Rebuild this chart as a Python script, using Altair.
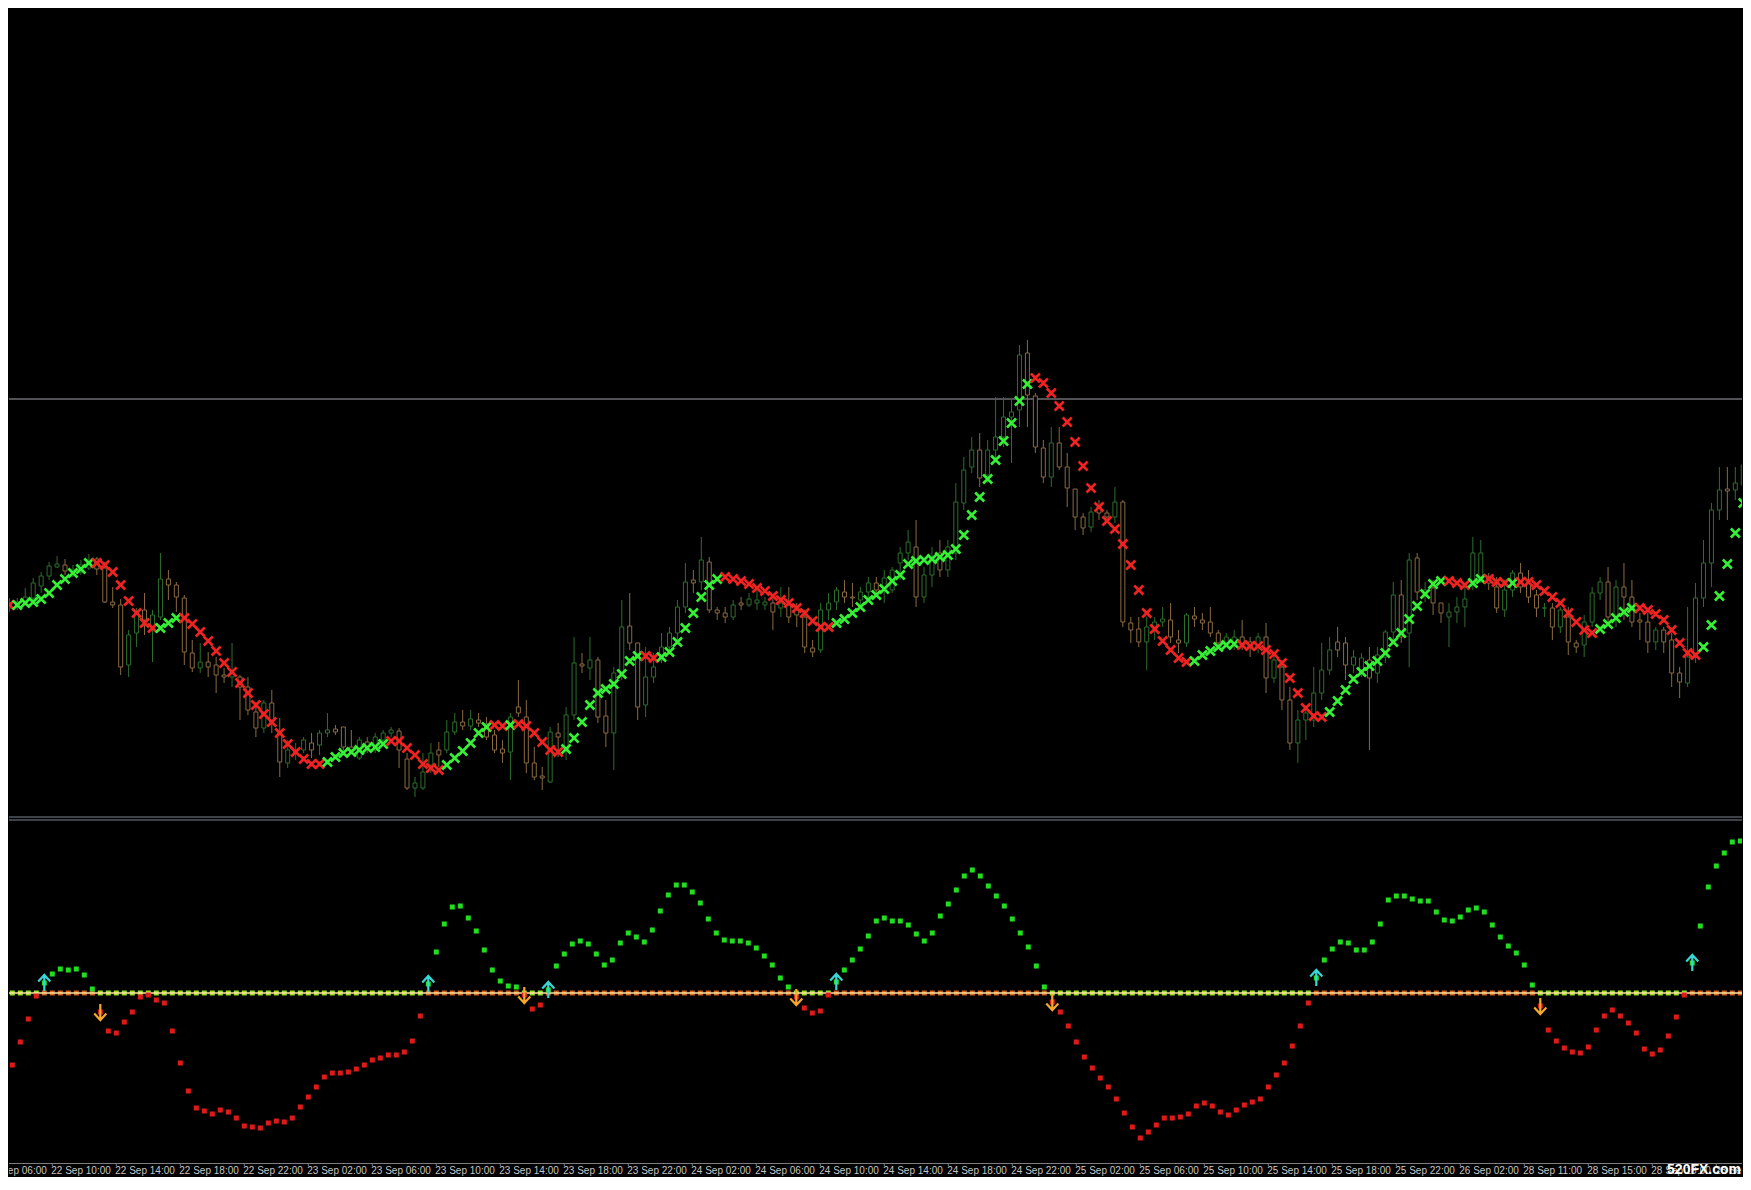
import altair as alt
import pandas as pd

# ---------------- data (H1 bars, price in chart units) ----------------
opens = [392, 393, 397, 402, 414, 424, 433, 435, 427, 428,
         432, 441, 432, 398, 395, 335, 367, 390, 373, 383,
         421, 415, 402, 347, 332, 338, 335, 325, 323, 323,
         313, 288, 272, 297, 267, 237, 247, 250, 257, 255,
         267, 271, 273, 253, 242, 258, 250, 260, 267, 269,
         241, 212, 212, 235, 250, 250, 268, 278, 274, 280,
         276, 265, 251, 248, 293, 283, 237, 224, 218, 267,
         250, 285, 336, 332, 340, 284, 267, 327, 374, 357,
         295, 323, 340, 353, 367, 393, 420, 418, 438, 390,
         387, 383, 397, 395, 397, 395, 397, 392, 395, 390,
         383, 352, 350, 390, 398, 408, 403, 400, 408, 417,
         413, 410, 437, 447, 453, 403, 425, 447, 430, 447,
         497, 533, 550, 525, 550, 563, 583, 590, 647, 604,
         552, 523, 557, 533, 511, 483, 473, 493, 487, 483,
         498, 377, 371, 358, 373, 378, 380, 360, 357, 384,
         380, 378, 367, 357, 357, 363, 358, 353, 363, 322,
         333, 300, 257, 280, 280, 307, 330, 358, 357, 335,
         327, 340, 327, 343, 368, 405, 367, 442, 405, 412,
         397, 383, 388, 393, 417, 423, 423, 413, 390, 410,
         427, 417, 405, 392, 392, 373, 383, 357, 355, 378,
         407, 418, 383, 413, 403, 380, 378, 358, 370, 360,
         327, 317, 343, 402, 437, 490, 511, 510, 515]
highs = [402, 402, 412, 422, 428, 438, 444, 441, 435, 440,
         446, 443, 438, 413, 401, 370, 392, 407, 390, 447,
         430, 418, 405, 360, 357, 348, 343, 332, 357, 325,
         323, 298, 300, 310, 282, 260, 257, 263, 267, 270,
         287, 275, 273, 270, 263, 263, 267, 270, 273, 272,
         247, 223, 247, 257, 258, 280, 287, 290, 290, 287,
         283, 270, 260, 287, 320, 300, 253, 233, 273, 277,
         293, 363, 347, 363, 343, 300, 333, 400, 407, 357,
         353, 347, 367, 373, 400, 437, 430, 463, 443, 393,
         393, 400, 403, 407, 410, 403, 403, 413, 413, 397,
         390, 360, 397, 407, 413, 420, 417, 413, 423, 423,
         430, 433, 453, 470, 480, 433, 453, 460, 460, 517,
         543, 563, 567, 560, 603, 603, 600, 655, 660, 607,
         560, 573, 573, 547, 511, 487, 493, 500, 490, 513,
         500, 383, 383, 383, 383, 393, 397, 370, 387, 393,
         387, 393, 370, 367, 370, 380, 363, 367, 377, 347,
         340, 313, 290, 290, 333, 357, 363, 373, 363, 350,
         347, 353, 353, 370, 418, 420, 447, 447, 418, 420,
         397, 397, 403, 417, 463, 460, 427, 423, 420, 430,
         437, 430, 410, 397, 397, 393, 393, 360, 385, 413,
         423, 433, 420, 437, 420, 387, 387, 373, 373, 367,
         333, 393, 417, 460, 497, 533, 533, 533, 540]
lows = [388, 390, 395, 397, 407, 420, 432, 425, 423, 425,
        430, 425, 397, 392, 325, 323, 353, 365, 338, 380,
        400, 388, 335, 328, 327, 323, 307, 317, 313, 280,
        285, 263, 267, 267, 223, 232, 240, 247, 242, 245,
        263, 265, 250, 247, 240, 247, 247, 257, 263, 232,
        210, 203, 210, 227, 233, 247, 265, 270, 270, 273,
        260, 247, 237, 220, 283, 227, 220, 210, 217, 243,
        240, 280, 327, 320, 277, 253, 230, 320, 350, 280,
        283, 317, 337, 350, 360, 387, 407, 410, 387, 380,
        377, 380, 390, 393, 390, 390, 370, 383, 377, 373,
        347, 343, 347, 380, 390, 397, 393, 393, 400, 403,
        397, 407, 420, 440, 393, 397, 413, 423, 423, 440,
        490, 527, 513, 517, 540, 553, 537, 573, 573, 547,
        517, 513, 530, 493, 470, 465, 468, 480, 477, 477,
        373, 357, 353, 330, 360, 373, 357, 347, 353, 373,
        370, 363, 353, 353, 350, 350, 343, 347, 307, 317,
        290, 250, 237, 260, 273, 300, 325, 343, 320, 327,
        323, 250, 317, 337, 360, 357, 333, 400, 398, 385,
        377, 353, 377, 373, 410, 417, 410, 387, 383, 403,
        407, 397, 383, 383, 360, 367, 345, 347, 343, 373,
        400, 377, 373, 380, 373, 360, 347, 350, 347, 313,
        302, 313, 337, 393, 413, 480, 480, 500, 510]
closes = [397, 398, 403, 417, 424, 434, 436, 429, 430, 435,
          438, 431, 398, 395, 333, 365, 387, 380, 385, 421,
          415, 403, 348, 332, 338, 333, 325, 323, 328, 313,
          290, 272, 297, 278, 238, 250, 250, 260, 250, 267,
          270, 268, 253, 250, 260, 253, 263, 267, 270, 250,
          212, 217, 228, 247, 245, 268, 278, 274, 281, 277,
          263, 250, 247, 283, 287, 237, 223, 222, 268, 263,
          285, 337, 334, 340, 283, 267, 327, 373, 357, 293,
          323, 333, 353, 367, 393, 418, 417, 440, 390, 387,
          383, 395, 395, 401, 400, 398, 388, 397, 383, 385,
          353, 348, 390, 397, 410, 403, 402, 408, 417, 410,
          422, 430, 447, 458, 403, 425, 443, 430, 453, 498,
          530, 550, 522, 550, 563, 583, 588, 645, 605, 553,
          523, 557, 533, 512, 483, 472, 488, 487, 483, 498,
          378, 370, 358, 373, 378, 381, 363, 357, 385, 381,
          377, 367, 357, 363, 363, 355, 353, 363, 322, 340,
          300, 257, 280, 287, 307, 330, 350, 350, 335, 343,
          342, 322, 345, 368, 405, 363, 440, 408, 410, 397,
          387, 388, 393, 401, 447, 447, 417, 392, 410, 427,
          413, 403, 392, 392, 373, 390, 358, 353, 378, 407,
          418, 383, 413, 403, 378, 378, 358, 370, 358, 327,
          318, 343, 402, 437, 490, 510, 509, 517, 535]

# trailing "x" marker level per bar and its colour runs (g = up, r = down)
trail = [395, 395, 397, 398, 401, 407, 415, 421, 427, 431,
         437, 437, 435, 428, 415, 399, 387, 377, 372, 372,
         377, 382, 382, 376, 368, 359, 349, 337, 328, 317,
         307, 295, 286, 278, 267, 256, 248, 241, 236, 236,
         238, 243, 247, 248, 250, 252, 253, 256, 259, 259,
         252, 245, 236, 232, 230, 235, 242, 249, 257, 267,
         273, 275, 274, 275, 276, 274, 267, 258, 250, 248,
         251, 262, 278, 295, 307, 311, 316, 326, 339, 344,
         344, 342, 343, 348, 358, 372, 387, 403, 415, 421,
         423, 421, 419, 416, 412, 409, 404, 400, 397, 392,
         387, 379, 373, 373, 377, 381, 387, 393, 400, 405,
         411, 419, 425, 436, 439, 440, 441, 443, 445, 451,
         465, 485, 503, 521, 540, 559, 577, 599, 616, 622,
         617, 607, 594, 578, 558, 534, 512, 493, 479, 471,
         456, 435, 410, 387, 371, 359, 350, 342, 338, 339,
         345, 349, 353, 355, 356, 355, 354, 354, 350, 346,
         337, 322, 307, 292, 284, 283, 288, 299, 310, 321,
         328, 334, 339, 347, 358, 367, 381, 394, 406, 416,
         419, 419, 417, 415, 417, 421, 421, 418, 417, 417,
         418, 418, 415, 409, 403, 397, 387, 378, 370, 367,
         371, 376, 382, 388, 392, 392, 390, 386, 380, 370,
         357, 347, 345, 353, 375, 404, 436, 467, 497]
trail_runs = [("r", 1), ("g", 10), ("r", 8), ("g", 3), ("r", 18), ("g", 8), ("r", 7),
              ("g", 6), ("r", 2), ("g", 1), ("r", 6), ("g", 10), ("r", 2), ("g", 8),
              ("r", 14), ("g", 25), ("r", 20), ("g", 6), ("r", 11), ("g", 15), ("r", 3),
              ("g", 2), ("r", 3), ("g", 1), ("r", 10), ("g", 5), ("r", 8), ("g", 6)]

# oscillator (lower window)
osc = [-92, -72, -49, -26, -3, 10, 19, 24, 23, 24,
       18, 4, -19, -38, -40, -29, -19, -4, -2, -7,
       -10, -38, -70, -98, -115, -118, -121, -117, -119, -125,
       -133, -134, -135, -130, -128, -129, -125, -114, -104, -94,
       -84, -80, -80, -79, -76, -72, -67, -65, -62, -62,
       -59, -48, -23, 9, 41, 69, 86, 87, 75, 62,
       43, 23, 12, 7, 6, -2, -16, -12, 3, 27,
       39, 49, 52, 49, 39, 28, 33, 50, 60, 56,
       51, 63, 82, 98, 108, 108, 101, 90, 74, 60,
       53, 52, 52, 50, 45, 37, 28, 15, 6, -4,
       -15, -20, -18, -2, 11, 23, 33, 44, 57, 72,
       75, 72, 72, 68, 59, 52, 60, 77, 89, 103,
       117, 123, 117, 107, 97, 87, 74, 60, 46, 27,
       6, -9, -19, -33, -49, -64, -75, -85, -94, -106,
       -120, -134, -145, -139, -132, -125, -125, -124, -121, -113,
       -110, -113, -119, -122, -117, -112, -109, -106, -94, -82,
       -70, -53, -33, -10, 15, 33, 44, 51, 50, 43,
       43, 51, 69, 93, 97, 97, 94, 92, 92, 81,
       73, 72, 76, 83, 85, 81, 68, 56, 47, 40,
       28, 8, -13, -37, -48, -55, -59, -60, -54, -37,
       -23, -17, -23, -30, -40, -56, -61, -57, -43, -24,
       -2, 30, 67, 106, 127, 140, 151, 152, 151]

time_labels = ["22 Sep 06:00", "22 Sep 10:00", "22 Sep 14:00", "22 Sep 18:00", "22 Sep 22:00",
               "23 Sep 02:00", "23 Sep 06:00", "23 Sep 10:00", "23 Sep 14:00", "23 Sep 18:00",
               "23 Sep 22:00", "24 Sep 02:00", "24 Sep 06:00", "24 Sep 10:00", "24 Sep 14:00",
               "24 Sep 18:00", "24 Sep 22:00", "25 Sep 02:00", "25 Sep 06:00", "25 Sep 10:00",
               "25 Sep 14:00", "25 Sep 18:00", "25 Sep 22:00", "26 Sep 02:00", "28 Sep 11:00",
               "28 Sep 15:00", "28 Sep 19:00", "28 Sep 23:00"]
first_label_bar = -2
bars_per_label = 8
hline_level = 601

# ---------------- styling ----------------
W = 1733
H_MAIN, H_IND, H_LAB = 807, 348, 13
XMIN = 0.5875
XMAX = XMIN + W / 8.0
BULL, BEAR = "#2d6e2d", "#8a6a40"
XG, XR = "#36f036", "#f02222"
OG, ORD = "#22dd22", "#e01a1a"
ZPOS, ZNEG = "#d0601c", "#94df2a"
UPC, DNC = "#3ad6d6", "#f5a82a"
XPATH = "M-1,-1L1,1M-1,1L1,-1"
UPPATH = "M0,1L0,-1M-0.75,-0.2L0,-1L0.75,-0.2"
DNPATH = "M0,-1L0,1M-0.75,0.2L0,1L0.75,0.2"

N = len(opens)
idx = list(range(N))
bars = pd.DataFrame({"i": idx, "o": opens, "h": highs, "l": lows, "c": closes})
bars["col"] = [BULL if c >= o else BEAR for o, c in zip(opens, closes)]

trend = []
for ch, cnt in trail_runs:
    trend += [ch] * cnt
tr = pd.DataFrame({"i": idx, "t": trail, "col": [XG if s == "g" else XR for s in trend]})

od = pd.DataFrame({"i": idx, "v": osc, "z": [0] * N,
                   "vc": [OG if v > 0 else ORD for v in osc],
                   "zc": [ZPOS if v > 0 else ZNEG for v in osc]})
ups = [i for i in range(1, N) if osc[i - 1] <= 0 < osc[i]]
downs = [i for i in range(1, N) if osc[i - 1] > 0 >= osc[i]]
up_df = od.iloc[ups]
dn_df = od.iloc[downs]

xs = alt.X("i:Q", scale=alt.Scale(domain=[XMIN, XMAX], nice=False, zero=False), axis=None)
yP = alt.Scale(domain=[185, 992], nice=False, zero=False)
yV = alt.Scale(domain=[-170, 178], nice=False, zero=False)

# ---------------- main window ----------------
hl = alt.Chart(pd.DataFrame({"p": [hline_level]})).mark_rule(color="#a6a6ae", strokeWidth=1).encode(
    y=alt.Y("p:Q", scale=yP, axis=None))
wick = alt.Chart(bars).mark_rule(strokeWidth=1, clip=True).encode(
    x=xs, y=alt.Y("l:Q", scale=yP, axis=None), y2="h:Q", color=alt.Color("col:N", scale=None))
body = alt.Chart(bars).mark_bar(size=4, fill="#000000", strokeWidth=1, clip=True).encode(
    x=xs, y=alt.Y("o:Q", scale=yP, axis=None), y2="c:Q", stroke=alt.Stroke("col:N", scale=None))
xm = alt.Chart(tr).mark_point(shape=XPATH, size=82, strokeWidth=2.6, filled=False, opacity=1, clip=True).encode(
    x=xs, y=alt.Y("t:Q", scale=yP, axis=None), stroke=alt.Stroke("col:N", scale=None))
main = alt.layer(hl, wick, body, xm).properties(width=W, height=H_MAIN)

# ---------------- indicator window ----------------
one = pd.DataFrame({"a": [0]})
sep1 = alt.Chart(one).mark_rule(color="#7b8394", strokeWidth=1).encode(
    x=alt.value(0), x2=alt.value(W), y=alt.value(2))
sep2 = alt.Chart(one).mark_rule(color="#7b8394", strokeWidth=1).encode(
    x=alt.value(0), x2=alt.value(W), y=alt.value(5))
zsq = alt.Chart(od).mark_square(size=25, opacity=1, clip=True).encode(
    x=xs, y=alt.Y("z:Q", scale=yV, axis=None), color=alt.Color("zc:N", scale=None))
zline = alt.Chart(pd.DataFrame({"z": [0]})).mark_rule(color="#ffe6a0", strokeWidth=1.5).encode(
    y=alt.Y("z:Q", scale=yV, axis=None))
vsq = alt.Chart(od).mark_square(size=25, opacity=1, clip=True).encode(
    x=xs, y=alt.Y("v:Q", scale=yV, axis=None), color=alt.Color("vc:N", scale=None))
upa = alt.Chart(up_df).mark_point(shape=UPPATH, size=260, strokeWidth=2.2, filled=False, opacity=1,
                                  color=UPC, clip=True).encode(x=xs, y=alt.Y("v:Q", scale=yV, axis=None))
dna = alt.Chart(dn_df).mark_point(shape=DNPATH, size=260, strokeWidth=2.2, filled=False, opacity=1,
                                  color=DNC, clip=True).encode(x=xs, y=alt.Y("v:Q", scale=yV, axis=None))
ind = alt.layer(sep1, sep2, zsq, zline, vsq, upa, dna).properties(width=W, height=H_IND)

# ---------------- time axis ----------------
lab_df = pd.DataFrame({"i": [first_label_bar + bars_per_label * k for k in range(len(time_labels))],
                       "lab": time_labels})
axl = alt.Chart(one).mark_rule(color="#7d7d7d", strokeWidth=1).encode(
    x=alt.value(0), x2=alt.value(W), y=alt.value(0.5))
ticks = alt.Chart(lab_df).mark_rule(color="#7d7d7d", strokeWidth=1, clip=True).encode(
    x=xs, y=alt.value(0), y2=alt.value(3))
texts = alt.Chart(lab_df).mark_text(align="left", baseline="middle", dx=-1, fontSize=10,
                                    font="Liberation Sans", color="#c4c4c4", clip=True).encode(
    x=xs, y=alt.value(8), text="lab:N")
wm = alt.Chart(pd.DataFrame({"t": ["520FX.com"]})).mark_text(
    align="right", baseline="bottom", fontSize=14, fontWeight="bold", font="Liberation Sans",
    color="#ffffff").encode(x=alt.value(W - 1), y=alt.value(14), text="t:N")
labels = alt.layer(axl, ticks, texts, wm).properties(width=W, height=H_LAB)

chart = alt.vconcat(main, ind, labels, spacing=0, bounds="flush").resolve_scale(
    x="independent", y="independent").properties(padding=0, background="#000000").configure_view(
    strokeWidth=0)

chart.save("out.html", embed_options={"renderer": "svg", "actions": False})
